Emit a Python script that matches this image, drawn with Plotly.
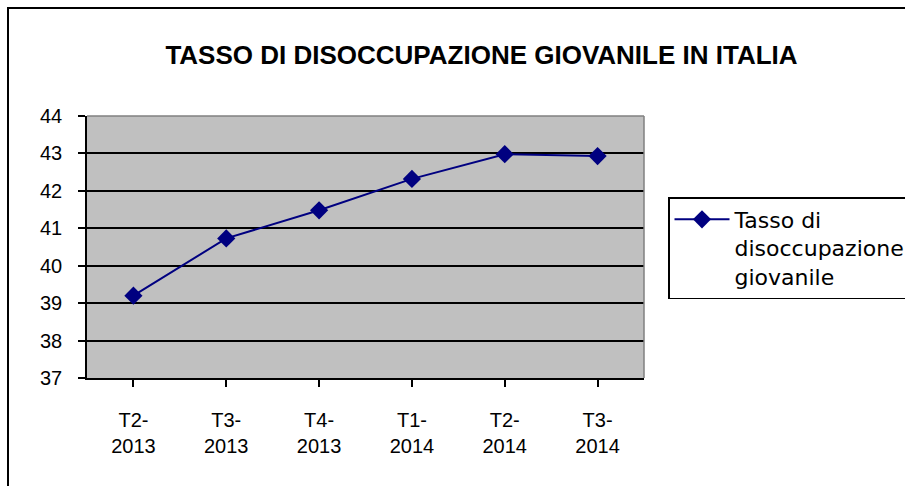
import plotly.graph_objects as go

categories = ["T2-<br>2013", "T3-<br>2013", "T4-<br>2013", "T1-<br>2014", "T2-<br>2014", "T3-<br>2014"]
values = [39.2, 40.73, 41.48, 42.32, 42.98, 42.93]
series_name = "Tasso di<br>disoccupazione<br>giovanile"
y_ticks = [37, 38, 39, 40, 41, 42, 43, 44]
title_text = "TASSO DI DISOCCUPAZIONE GIOVANILE IN ITALIA"

W, H = 905, 486
L, R, T, B = 87, 644, 116, 378

def px_x(X):
    return (X - L) / (R - L)

def px_y(Y):
    return (B - Y) / (B - T)

fig = go.Figure()
fig.add_trace(go.Scatter(
    x=list(range(len(categories))), y=values, name=series_name,
    mode="lines+markers",
    line=dict(color="#000080", width=2),
    marker=dict(symbol="diamond", size=14, color="#000080"),
))

font_family = "Liberation Sans, Arial, sans-serif"

fig.update_layout(
    width=W, height=H,
    margin=dict(l=L, r=W - R, t=T, b=H - B, pad=0, autoexpand=False),
    paper_bgcolor="white",
    plot_bgcolor="#C0C0C0",
    font=dict(family=font_family, size=20, color="black"),
    title=dict(text="<b>" + title_text + "</b>", x=481.5 / W, xanchor="center",
               y=1 - 55 / H, yanchor="middle",
               font=dict(family=font_family, size=26, color="black")),
    showlegend=True,
    legend=dict(x=px_x(668), y=px_y(197), xanchor="left", yanchor="top",
                bordercolor="black", borderwidth=1.5, bgcolor="white",
                font=dict(family="DejaVu Sans, sans-serif", size=22),
                itemwidth=55, tracegroupgap=0, valign="top"),
    xaxis=dict(
        tickmode="array", tickvals=list(range(len(categories))), ticktext=categories,
        range=[-0.5, len(categories) - 0.5],
        showgrid=False, zeroline=False,
        showline=True, linecolor="black", linewidth=1.5,
        ticks="outside", ticklen=7, tickwidth=1.5, tickcolor="black",
        tickson="boundaries", ticklabelstandoff=16,
        tickfont=dict(size=20),
    ),
    yaxis=dict(
        range=[37, 44], tickvals=y_ticks,
        showgrid=True, gridcolor="black", gridwidth=1.5,
        zeroline=False,
        showline=True, linecolor="black", linewidth=1.5,
        ticks="outside", ticklen=7, tickwidth=1.5, tickcolor="black",
        ticklabelstandoff=12,
        tickfont=dict(size=20),
    ),
    shapes=[
        dict(type="line", xref="paper", yref="paper", x0=0, x1=1, y0=1, y1=1,
             line=dict(color="#808080", width=1.5)),
        dict(type="line", xref="paper", yref="paper", x0=1, x1=1, y0=0, y1=1,
             line=dict(color="#808080", width=1.5)),
        dict(type="rect", xref="paper", yref="paper",
             x0=px_x(8), x1=px_x(930), y0=px_y(520), y1=px_y(8),
             line=dict(color="black", width=2), layer="below"),
    ],
)

fig.write_html(
    "out.html",
    config={"displayModeBar": False},
    post_script="document.body.style.margin='0';document.body.style.overflow='hidden';",
)
